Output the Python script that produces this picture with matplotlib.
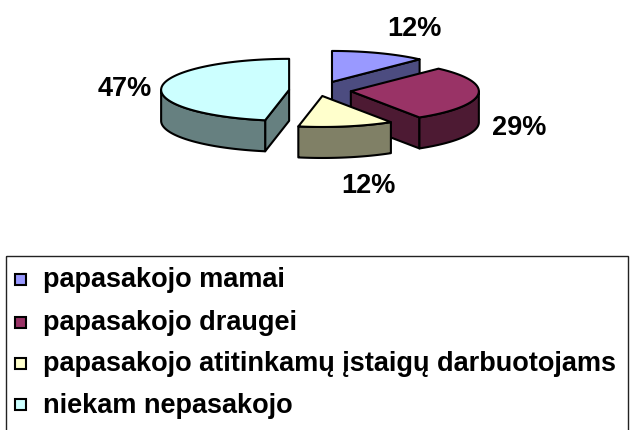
import numpy as np
import matplotlib.pyplot as plt
from matplotlib.patches import Polygon, Rectangle

# data
categories = ['papasakojo mamai',
              'papasakojo draugei',
              'papasakojo atitinkamų įstaigų darbuotojams',
              'niekam nepasakojo']
shares = [12, 29, 12, 47]
pct_labels = [f'{s}%' for s in shares]

# style
top_colors = ['#9999FF', '#993366', '#FFFFCC', '#CCFFFF']
side_colors = ['#4C4C80', '#4D1A33', '#808066', '#668080']
explode = [38, 33, 23, 29]
label_pos = [(414, 36), (519, 135), (368, 193), (125, 96)]
row_y = [280, 323, 364, 406]

cx, cy = 318, 91.5
rx, ry, depth = 128, 31, 31

fig = plt.figure(figsize=(6.33, 4.31), dpi=100)
ax = fig.add_axes([0, 0, 1, 1])
ax.set_xlim(0, 633)
ax.set_ylim(431, 0)
ax.axis('off')


def pt(ox, oy, a):
    r = np.radians(a)
    return ox + rx * np.cos(r), oy - ry * np.sin(r)


slices = []
start = 90.0
for i, s in enumerate(shares):
    end = start - 360 * s / 100
    mid = np.radians((start + end) / 2)
    ox = cx + explode[i] * np.cos(mid)
    oy = cy - explode[i] * ry / rx * np.sin(mid)
    slices.append((oy, i, start, end, ox))
    start = end

edge = dict(edgecolor='black', linewidth=1.5, joinstyle='round')
for oy, i, a0, a1, ox in sorted(slices):
    # radial walls facing the viewer
    for a, nrm in ((a0, a0 + 90), (a1, a1 - 90)):
        if np.sin(np.radians(nrm)) < -1e-6:
            x, y = pt(ox, oy, a)
            quad = [(ox, oy), (x, y), (x, y + depth), (ox, oy + depth)]
            ax.add_patch(Polygon(quad, facecolor=side_colors[i], **edge))
    # front part of the rim
    lo, hi = max(a1, -180), min(a0, 0)
    if lo < hi:
        th = np.linspace(hi, lo, 80)
        x, y = pt(ox, oy, th)
        rim = np.column_stack([np.r_[x, x[::-1]], np.r_[y, y[::-1] + depth]])
        ax.add_patch(Polygon(rim, facecolor=side_colors[i], **edge))
    # top face
    th = np.linspace(a0, a1, 120)
    x, y = pt(ox, oy, th)
    ax.add_patch(Polygon(np.column_stack([np.r_[ox, x], np.r_[oy, y]]),
                         facecolor=top_colors[i], **edge))

for (lx, ly), lab in zip(label_pos, pct_labels):
    ax.text(lx, ly, lab, ha='center', va='baseline', fontsize=19.5,
            fontweight='bold', family='Liberation Sans')

# legend box
ax.add_patch(Rectangle((6, 257), 622, 200, facecolor='none',
                       edgecolor='#222222', lw=1, clip_on=False))
for i, name in enumerate(categories):
    ax.add_patch(Rectangle((15, row_y[i] - 5.5), 11, 11,
                           facecolor=top_colors[i], edgecolor='black', lw=1.5))
    ax.text(43, row_y[i] + 7, name, fontsize=19.5, fontweight='bold',
            family='Liberation Sans', va='baseline', ha='left')

fig.savefig('out.png', dpi=100)
